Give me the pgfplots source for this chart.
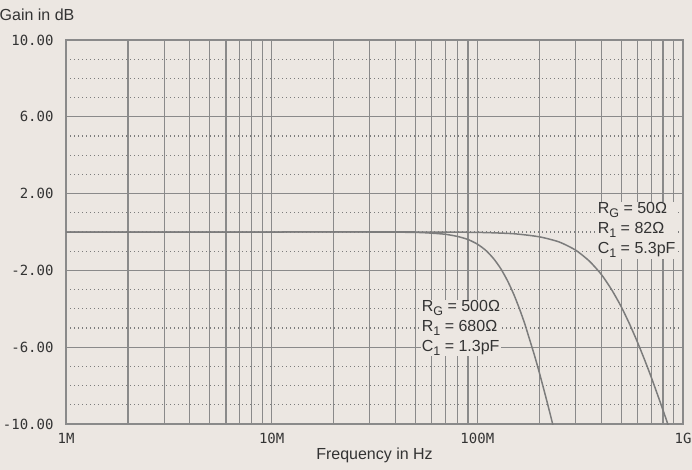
\documentclass[border=0pt]{standalone}
\usepackage{fontspec}
\setmainfont{Liberation Sans}
\newfontfamily\monofont{DejaVu Sans Mono}
\usepackage{pgfplots}
\pgfplotsset{compat=1.18}
\usetikzlibrary{calc}
\definecolor{bg}{HTML}{ECE7E2}
\definecolor{gridc}{HTML}{8A8A8A}
\definecolor{curvec}{HTML}{7C7C7C}
\definecolor{txt}{HTML}{333333}
\newcommand\sub[1]{\raisebox{-0.45ex}{\fontsize{12.5}{12.5}\selectfont #1}}
\begin{document}
\begin{tikzpicture}
\fill[bg] (-80pt,-60pt) rectangle (700pt,460pt);
\begin{axis}[
  at={(0,0)}, anchor=south west,
  scale only axis, width=617pt, height=384pt,
  xmode=log, xmin=1e6, xmax=1e9, ymin=-10, ymax=10,
  xtick={1e6,1e7,1e8,1e9}, xticklabels={1M,10M,100M,1G},
  ytick={-10,-6,-2,2,6,10},
  yticklabels={-10.00,-6.00,-2.00,2.00,6.00,10.00},
  minor y tick num=3,
  grid=both,
  major grid style={gridc, line width=1.3pt, solid},
  minor x grid style={gridc, line width=1.2pt, solid},
  minor y grid style={gridc!90!black, line width=1.1pt, dash pattern=on 1pt off 3pt},
  major tick length=0pt, minor tick length=0pt,
  axis line style={gridc, line width=1.4pt},
  ticklabel style={font=\monofont\fontsize{14}{14}\selectfont, text=txt},
  xticklabel style={yshift=-6pt},
  yticklabel style={xshift=-9pt},
  xlabel={Frequency in Hz},
  every axis x label/.style={at={(axis description cs:0.5,0)}, anchor=center, yshift=-31pt, font=\fontsize{16}{16}\selectfont, text=txt},
  ylabel={Gain in dB},
  every axis y label/.style={at={(axis description cs:0,1)}, anchor=center, xshift=-29pt, yshift=25pt, font=\fontsize{16}{16}\selectfont, text=txt},
  axis background/.style={fill=bg},
  clip=true,
]
% R_G = 500 Ohm
\addplot[curvec, line width=1.5pt, smooth, tension=0.4] coordinates {
 (1e6,0) (1e7,0) (3e7,0) (5e7,-0.02) (6e7,-0.06) (7e7,-0.12) (8e7,-0.23)
 (9e7,-0.39) (1.0e8,-0.63) (1.1e8,-0.96) (1.2e8,-1.39) (1.3e8,-1.91)
 (1.4e8,-2.53) (1.5e8,-3.22) (1.6e8,-3.98) (1.7e8,-4.78) (1.8e8,-5.64)
 (1.9e8,-6.46) (2.0e8,-7.31) (2.1e8,-8.16) (2.2e8,-8.99) (2.3e8,-9.81) (2.35e8,-10.22)
};
% R_G = 50 Ohm
\addplot[curvec, line width=1.5pt, smooth, tension=0.4] coordinates {
 (1e6,0) (1e7,0) (5e7,0) (1.0e8,-0.02) (1.5e8,-0.09) (2.0e8,-0.25) (2.5e8,-0.52)
 (3.0e8,-0.94) (3.5e8,-1.51) (4.0e8,-2.20) (4.5e8,-3.01) (5.0e8,-3.88)
 (5.5e8,-4.80) (6.0e8,-5.73) (6.5e8,-6.65) (7.0e8,-7.55) (7.5e8,-8.44)
 (8.0e8,-9.29) (8.5e8,-10.11)
};
\node[anchor=west, align=left, fill=bg, inner sep=1pt, text=txt,
      font=\fontsize{16}{20}\selectfont]
  at (axis cs:5.3e7,-5.0) {R\sub{G} = 500Ω\\R\sub{1} = 680Ω\\C\sub{1} = 1.3pF};
\node[anchor=west, align=left, fill=bg, inner sep=1pt, text=txt,
      font=\fontsize{16}{20}\selectfont]
  at (axis cs:3.8e8,0.1) {R\sub{G} = 50Ω\\R\sub{1} = 82Ω\\C\sub{1} = 5.3pF};
\end{axis}
\pgfresetboundingbox
\path[use as bounding box] ($(current axis.south west)+(-66pt,-45pt)$) rectangle ($(current axis.south west)+(626pt,424pt)$);
\end{tikzpicture}
\end{document}
